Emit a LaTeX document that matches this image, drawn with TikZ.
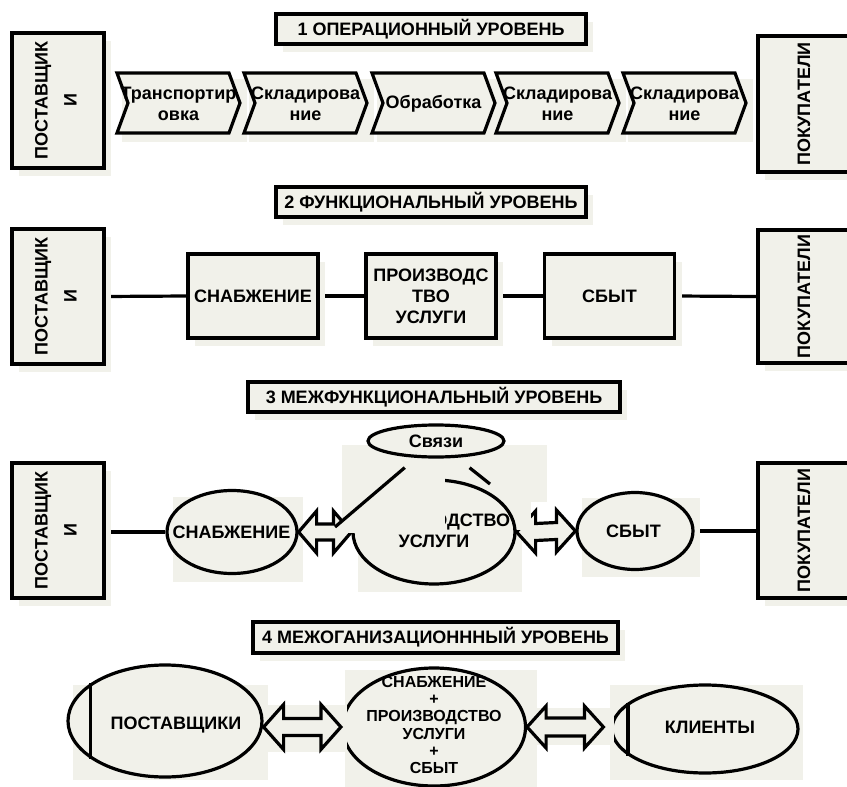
\documentclass[tikz,border=0pt]{standalone}
\usepackage{fontspec}
\setmainfont{Liberation Sans}
\usepackage{graphicx}
\usetikzlibrary{shapes.geometric,shadows,backgrounds,calc}

\definecolor{paper}{RGB}{241,241,234}

\tikzstyle{boxshadow} = [drop shadow={shadow xshift=7pt, shadow yshift=-8pt, opacity=1, fill=paper}]
\tikzstyle{levelbox} = [rectangle, draw, line width=3.2pt, fill=paper, inner sep=0pt, minimum height=30pt, boxshadow]
\tikzstyle{partybox} = [rectangle, draw, line width=3.2pt, fill=paper, inner sep=0pt, minimum width=92pt, minimum height=135pt, boxshadow]
\tikzstyle{funcbox} = [rectangle, draw, line width=3.2pt, fill=paper, inner sep=0pt, minimum width=130pt, minimum height=84pt, align=center, boxshadow]
\tikzstyle{oval} = [ellipse, draw, line width=3.2pt, fill=paper, inner sep=0pt]
\tikzstyle{txt} = [align=center, inner sep=0pt]
\tikzstyle{link} = [draw, line width=3.2pt]
\tikzstyle{chevron} = [draw, line width=3.2pt, fill=paper, line join=miter]
\tikzstyle{blockarrow} = [draw, line width=3.2pt, fill=paper, line join=miter]
\tikzstyle{patch} = [fill=paper]

% #1 left tip, #2 right tip, #3 head length, #4 half height, #5 half shaft
\newcommand{\dblarrow}[5]{%
  \draw [blockarrow] (#1) -- ($(#1)+(#3,-#4)$) -- ($(#1)+(#3,-#5)$) -- ($(#2)+(-#3,-#5)$)
    -- ($(#2)+(-#3,-#4)$) -- (#2) -- ($(#2)+(-#3,#4)$) -- ($(#2)+(-#3,#5)$)
    -- ($(#1)+(#3,#5)$) -- ($(#1)+(#3,#4)$) -- cycle;}

\begin{document}
\begin{tikzpicture}[x=1pt, y=-1pt, every node/.style={font=\bfseries\fontsize{18}{21}\selectfont}]

\begin{scope}[on background layer]
\fill [white] (0,0) rectangle (847,787);
\end{scope}
\useasboundingbox (0,0) rectangle (847,787);

% 1: operational level

\node [levelbox, minimum width=310pt] at (431,29) (title1) {1 ОПЕРАЦИОННЫЙ УРОВЕНЬ};
\node [partybox] at (58,100.5) (supp1) {\rotatebox{90}{\begin{tabular}{@{}c@{}}ПОСТАВЩИК\\[8pt]И\end{tabular}}};
\node [partybox, minimum height=136pt] at (804,104) (cust1) {\rotatebox{90}{ПОКУПАТЕЛИ}};

\foreach \x/\name/\txt in {117/trans/{Транспортир\\овка}, 244/store1/{Складирова\\ние},
    372/proc/{Обработка}, 496/store2/{Складирова\\ние}, 623/store3/{Складирова\\ние}} {
  \fill [patch] (\x+5,79) rectangle (\x+130,142);
  \draw [chevron] (\x,73) -- (\x+112,73) -- (\x+123,103) -- (\x+112,133) -- (\x,133) -- (\x+11,103) -- cycle;
  \node [txt] at (\x+61.5,104) (\name) {\txt};
}

% 2: functional level

\node [levelbox, minimum width=310pt] at (431,202) (title2) {2 ФУНКЦИОНАЛЬНЫЙ УРОВЕНЬ};
\node [partybox] at (58,296.5) (supp2) {\rotatebox{90}{\begin{tabular}{@{}c@{}}ПОСТАВЩИК\\[8pt]И\end{tabular}}};
\node [funcbox] at (253,296) (supply2) {СНАБЖЕНИЕ};
\node [funcbox] at (431,296) (prod2) {ПРОИЗВОДС\\ТВО\\УСЛУГИ};
\node [funcbox] at (609.5,296) (sales2) {СБЫТ};
\node [partybox, minimum height=133pt] at (804,296.5) (cust2) {\rotatebox{90}{ПОКУПАТЕЛИ}};

\begin{scope}[on background layer]
\path [link] (supp2.east) -- (supply2.west);
\path [link] (supply2.east) -- (prod2.west);
\path [link] (prod2.east) -- (sales2.west);
\path [link] (sales2.east) -- (cust2.west);
\end{scope}

% 3: cross-functional level

\node [levelbox, minimum width=372pt] at (434,397) (title3) {3 МЕЖФУНКЦИОНАЛЬНЫЙ УРОВЕНЬ};
\node [partybox] at (58,530.5) (supp3) {\rotatebox{90}{\begin{tabular}{@{}c@{}}ПОСТАВЩИК\\[8pt]И\end{tabular}}};
\node [partybox] at (804,530.5) (cust3) {\rotatebox{90}{ПОКУПАТЕЛИ}};

\fill [patch] (173,497) rectangle (303,582);
\node [oval, minimum width=130pt, minimum height=83pt] at (232,532) (supply3) {};
\node [txt] at (231.5,532) (supply3t) {СНАБЖЕНИЕ};

\fill [patch] (582,498) rectangle (700,577);
\node [oval, minimum width=116pt, minimum height=77pt] at (635,531) (sales3) {};
\node [txt] at (633.5,531) (sales3t) {СБЫТ};

\fill [patch] (342,445) rectangle (547,502);
\fill [patch] (358,488) rectangle (522,592);
\node [oval, minimum width=162pt, minimum height=104pt] at (434,532) (prod3) {};
\node [txt] at (434,531) (prod3t) {ПРОИЗВОДСТВО\\УСЛУГИ};

\dblarrow{supply3.east}{prod3.west}{18}{21}{8}
\dblarrow{prod3.east}{sales3.west}{19}{21}{8.5}

\fill [patch] (342,445) rectangle (445,533);
\fill [patch] (517,498) rectangle (531,530);

\node [oval, minimum width=136pt, minimum height=32pt] at (436,441) (links) {Связи};
\coordinate (linkA) at (335,527);
\coordinate (linkB) at (490,484);
\path [link, shorten <=15pt] (links) -- (linkA);
\path [link, shorten <=16pt] (links) -- (linkB);

\begin{scope}[on background layer]
\path [link] (supply3.west) -- (supply3.west -| supp3.east);
\path [link] (sales3.east) -- (sales3.east -| cust3.west);
\end{scope}

% 4: inter-organisational level

\node [levelbox, minimum width=365pt, minimum height=31pt] at (435.5,637.5) (title4) {4 МЕЖОГАНИЗАЦИОНННЫЙ УРОВЕНЬ};

\fill [patch] (73,685) rectangle (268,780);
\node [oval, minimum width=194pt, minimum height=112pt] at (165,721) (supp4) {};
\path [link] (supp4.153) -- (supp4.207);
\node [txt] at (176,725) (supp4t) {ПОСТАВЩИКИ};

\fill [patch] (345,670) rectangle (537,790);
\node [oval, minimum width=183pt, minimum height=118pt] at (434,727) (mid4) {};
\node [txt, font=\bfseries\fontsize{16}{17.2}\selectfont] at (434,725) (mid4t) {СНАБЖЕНИЕ\\+\\ПРОИЗВОДСТВО\\УСЛУГИ\\+\\СБЫТ};

\fill [patch] (610,685) rectangle (803,780);
\node [oval, minimum width=186pt, minimum height=88pt] at (705,729) (clients) {};
\path [link] (clients.161) -- (clients.199);
\node [txt] at (710,727) (clientst) {КЛИЕНТЫ};

\fill [patch] (265,705) rectangle (347,752);
\fill [patch] (530,708) rectangle (614,745);
\coordinate (arrL) at (supp4.east |- mid4.west);
\coordinate (arrR) at ($(clients.west |- mid4.east)+(-7,0)$);
\dblarrow{arrL}{mid4.west}{20}{22.5}{8.5}
\dblarrow{mid4.east}{arrR}{19}{21}{9}

\end{tikzpicture}
\end{document}
